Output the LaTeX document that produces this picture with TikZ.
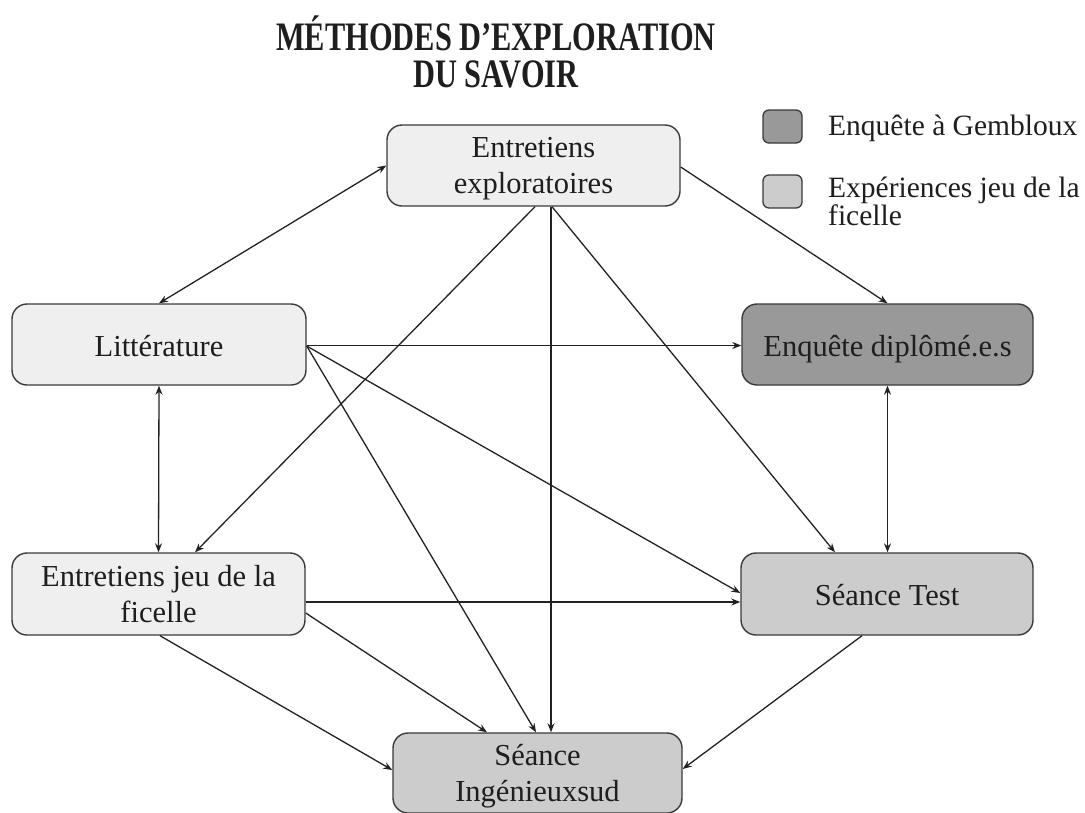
\documentclass[tikz,border=0pt]{standalone}
\usepackage{fontspec}
\setmainfont{Liberation Serif}
\usetikzlibrary{arrows.meta}
\definecolor{fillL}{HTML}{EFEFEF}
\definecolor{fillD}{HTML}{999999}
\definecolor{fillM}{HTML}{CCCCCC}
\definecolor{edgeC}{HTML}{3A3A3A}
\definecolor{textC}{HTML}{1E1E1E}
\definecolor{lineC}{HTML}{222222}
\tikzset{
  box/.style={draw=edgeC, line width=1.4pt, rounded corners=15pt, align=center,
    inner sep=0pt, text=textC, font=\fontsize{30.5}{36}\selectfont, text depth=0pt},
  legbox/.style={draw=edgeC, line width=1.3pt, rounded corners=6pt, inner sep=0pt,
    minimum width=39pt, minimum height=33pt},
  legtext/.style={inner sep=0pt, text=textC, align=left, font=\fontsize{29.5}{28}\selectfont},
  arr/.style={draw=lineC, line width=1.3pt, -{Stealth[length=9pt,width=7pt]}},
  darr/.style={draw=lineC, line width=1.3pt, {Stealth[length=9pt,width=7pt]}-{Stealth[length=9pt,width=7pt]}},
}
\begin{document}
\begin{tikzpicture}[x=1pt,y=-1pt]
\useasboundingbox (0,0) rectangle (1085,812);
% title
\node[anchor=base, inner sep=0pt, text=textC, font=\fontsize{30.4}{27}\bfseries] (title) at (496,50)
  {\scalebox{1}[1.33]{\begin{tabular}[t]{@{}c@{}}MÉTHODES D’EXPLORATION\\DU SAVOIR\end{tabular}}};
% legend
\node[legbox, fill=fillD] (leg1) at (782.5,126.5) {};
\node[legbox, fill=fillM] (leg2) at (782.5,191.5) {};
\node[legtext, anchor=base west] (lt1) at (828,135) {Enquête à Gembloux};
\node[legtext, anchor=west] (lt2) at (828,201) {Expériences jeu de la\\ficelle};
% nodes
\node[box, fill=fillL, minimum width=293pt, minimum height=81pt] (expl) at (533.5,165.5) {Entretiens\\exploratoires};
\node[box, fill=fillL, minimum width=294pt, minimum height=81pt, text height=23pt] (lit) at (159,344.5) {Littérature};
\node[box, fill=fillD, minimum width=291pt, minimum height=81pt, text height=23pt] (enq) at (887.5,344.5) {Enquête diplômé.e.s};
\node[box, fill=fillL, minimum width=293pt, minimum height=82pt] (ejf) at (158.5,594) {Entretiens jeu de la\\ficelle};
\node[box, fill=fillM, minimum width=292pt, minimum height=82pt, text height=23pt] (test) at (887,594) {Séance Test};
\node[box, fill=fillM, minimum width=289pt, minimum height=80pt] (ing) at (537.5,773) {Séance\\Ingénieuxsud};
% connectors
\draw[darr] (expl.west) -- (lit.north);
\draw[arr] ([yshift=-1.5pt]expl.east) -- (enq.north);
\draw[arr] ([xshift=1.5pt]expl.south) -- ([xshift=36.5pt]ejf.north);
\draw[arr] ([xshift=17.5pt]expl.south) -- ([xshift=13.5pt]ing.north);
\draw[arr] ([xshift=18.5pt]expl.south) -- ([xshift=-52pt]test.north);
\draw[arr] ([yshift=-1pt]lit.east) -- ([yshift=-1pt]enq.west);
\draw[arr] ([yshift=-1.5pt]lit.east) -- ([yshift=1pt]test.west);
\draw[arr] ([yshift=-1.5pt]lit.east) -- ([xshift=-1.5pt]ing.north);
\draw[darr] (lit.south) -- (ejf.north);
\draw[darr] (enq.south) -- ([xshift=0.5pt]test.north);
\draw[arr] ([yshift=-8pt]ejf.east) -- ([yshift=-8pt]test.west);
\draw[arr] ([yshift=-19pt]ejf.east) -- ([xshift=-50.5pt]ing.north);
\draw[arr] ([xshift=1.5pt]ejf.south) -- ([yshift=3pt]ing.west);
\draw[arr] ([xshift=-25pt]test.south) -- ([yshift=4pt]ing.east);
\end{tikzpicture}
\end{document}
